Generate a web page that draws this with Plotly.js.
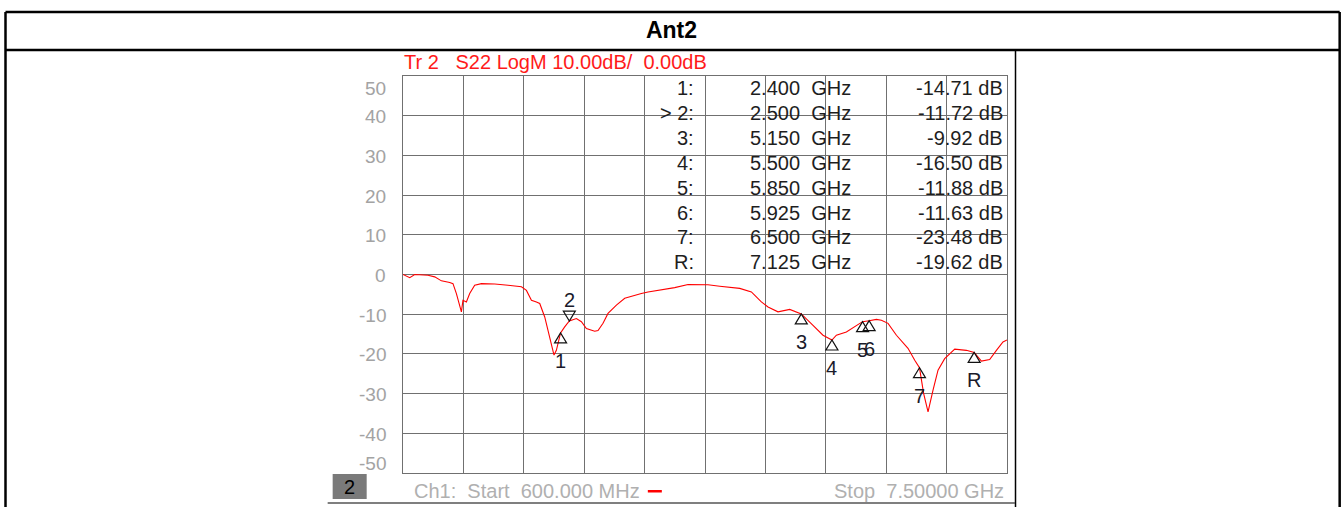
<!DOCTYPE html>
<html>
<head>
<meta charset="utf-8">
<script src="https://cdn.plot.ly/plotly-3.0.1.min.js"></script>
<style>
  html, body { margin: 0; padding: 0; background: #fff; }
  #chart { width: 1343px; height: 507px; }
</style>
</head>
<body>
<div id="chart"></div>
<script>
// ---------- data ----------
const chartTitle = 'Ant2';
const traceHeader = 'Tr 2\u00a0\u00a0 S22 LogM 10.00dB/\u00a0 0.00dB';
const startGHz = 0.6;
const stopGHz = 7.5;
const refDB = 0;
const scaleDB = 10;
const yTickLabels = [50, 40, 30, 20, 10, 0, -10, -20, -30, -40, -50];

const freqGHz = [0.600, 0.677, 0.734, 0.810, 0.886, 0.962, 1.039, 1.134, 1.171, 1.210,
  1.267, 1.285, 1.324, 1.362, 1.419, 1.496, 1.648, 1.800, 1.953, 2.010,
  2.067, 2.124, 2.162, 2.219, 2.276, 2.325, 2.352, 2.400, 2.447, 2.500,
  2.581, 2.638, 2.695, 2.790, 2.828, 2.885, 2.942, 3.038, 3.133, 3.247,
  3.323, 3.399, 3.552, 3.704, 3.856, 3.990, 4.084, 4.218, 4.447, 4.580,
  4.694, 4.770, 4.884, 5.018, 5.094, 5.150, 5.284, 5.398, 5.500, 5.551,
  5.665, 5.780, 5.850, 5.925, 6.008, 6.065, 6.141, 6.237, 6.369, 6.446,
  6.500, 6.548, 6.598, 6.655, 6.712, 6.788, 6.903, 7.036, 7.125, 7.208,
  7.302, 7.379, 7.454, 7.500];
const s22dB = [0.0, -0.8, 0.0, -0.1, -0.2, -0.6, -1.6, -2.0, -2.3, -4.8,
  -9.4, -6.5, -6.9, -4.8, -2.7, -2.3, -2.4, -2.7, -3.1, -4.0,
  -6.5, -6.9, -7.3, -10.7, -15.7, -20.3, -19.1, -14.71, -13.2, -11.72,
  -11.1, -11.9, -13.6, -14.3, -14.1, -12.3, -9.8, -7.7, -6.0, -5.2,
  -4.8, -4.4, -3.8, -3.3, -2.5, -2.5, -2.6, -2.95, -3.5, -4.4,
  -6.9, -8.2, -9.4, -8.8, -9.4, -9.92, -12.8, -15.3, -16.5, -15.3,
  -14.5, -12.8, -11.88, -11.63, -11.3, -11.5, -12.3, -15.3, -18.6, -21.6,
  -23.48, -30.0, -34.6, -29.1, -24.1, -21.2, -18.8, -19.1, -19.62, -21.8,
  -21.4, -19.1, -17.0, -16.5];

const markerNames = ['1', '2', '3', '4', '5', '6', '7', 'R'];
const markerFreqGHz = [2.400, 2.500, 5.150, 5.500, 5.850, 5.925, 6.500, 7.125];
const markerDB = [-14.71, -11.72, -9.92, -16.50, -11.88, -11.63, -23.48, -19.62];
const activeMarker = '2';

const channelLabel = 'Ch1:\u00a0 Start\u00a0 600.000 MHz';
const stopLabel = 'Stop\u00a0 7.50000 GHz';
const channelNumber = '2';

// ---------- layout helpers (pixel geometry of the page) ----------
const W = 1343, H = 507;
const PL = 403.3, PR = 1007, PT = 76, PB = 473;
const px = v => (v - PL) / (PR - PL);     // page x pixel -> paper x
const py = v => (PB - v) / (PB - PT);     // page y pixel -> paper y

const FONT = 'Liberation Sans, Arial, sans-serif';
const GRID = '#707070';

const shapes = [];
const annotations = [];

// table borders around the page
const line = (x0, y0, x1, y1, color, width) => shapes.push({
  type: 'line', xref: 'paper', yref: 'paper', layer: 'above',
  x0: px(x0), y0: py(y0), x1: px(x1), y1: py(y1),
  line: { color: color, width: width }
});
line(6, 12, 1339.5, 12, '#000', 2.5);
line(6, 12, 6, 510, '#000', 2.5);
line(1339.5, 12, 1339.5, 510, '#000', 2.5);
line(6, 50, 1339.5, 50, '#000', 2.5);
line(1015.5, 50, 1015.5, 510, '#000', 1.5);
line(328, 503, 1015, 503, '#555', 1.5);

// reference level arrows (pixel-sized, anchored to data)
shapes.push({
  type: 'path', xref: 'x', yref: 'y', xsizemode: 'pixel', ysizemode: 'pixel',
  xanchor: startGHz, yanchor: refDB, path: 'M0,0 L-6,4 L-6,-4 Z',
  fillcolor: '#ff0000', line: { color: '#ff0000', width: 0 }, layer: 'above'
});
shapes.push({
  type: 'path', xref: 'x', yref: 'y', xsizemode: 'pixel', ysizemode: 'pixel',
  xanchor: stopGHz, yanchor: refDB, path: 'M1,0 L7,4 L7,-4 Z',
  fillcolor: '#ff0000', line: { color: '#ff0000', width: 0 }, layer: 'above'
});

// marker triangles and labels
markerNames.forEach((name, i) => {
  const active = name === activeMarker;
  shapes.push({
    type: 'path', xref: 'x', yref: 'y', xsizemode: 'pixel', ysizemode: 'pixel',
    xanchor: markerFreqGHz[i], yanchor: markerDB[i],
    path: active ? 'M0,0 L-6,10 L6,10 Z' : 'M0,0 L-6,-10 L6,-10 Z',
    line: { color: '#111', width: 1.2 }, fillcolor: 'rgba(0,0,0,0)', layer: 'above'
  });
  annotations.push({
    x: markerFreqGHz[i], y: markerDB[i], xref: 'x', yref: 'y',
    text: name, showarrow: false, yshift: active ? 21 : -28,
    xanchor: 'center', yanchor: 'middle',
    font: { family: FONT, size: 20, color: '#1a1a2a' }
  });
});

// y tick labels (the end labels sit inside the frame as on the analyser)
yTickLabels.forEach(v => {
  let shift = -1;
  if (v === yTickLabels[0]) shift = -12;
  if (v === yTickLabels[yTickLabels.length - 1]) shift = 10;
  annotations.push({
    x: px(388), xref: 'paper', y: v, yref: 'y', text: String(v),
    showarrow: false, xanchor: 'right', yanchor: 'middle', yshift: shift,
    font: { family: FONT, size: 19, color: '#a3a3a3' }
  });
});

// marker table
markerNames.forEach((name, i) => {
  const rowY = py(88 + 24.9 * i);
  const fnt = { family: FONT, size: 20, color: '#1e1e1e' };
  annotations.push({ x: px(696), y: rowY, xref: 'paper', yref: 'paper', showarrow: false,
    xanchor: 'right', yanchor: 'middle', text: (name === activeMarker ? '>\u00a0' : '') + name + ':', font: fnt });
  annotations.push({ x: px(748), y: rowY, xref: 'paper', yref: 'paper', showarrow: false,
    xanchor: 'left', yanchor: 'middle', text: markerFreqGHz[i].toFixed(3) + '\u00a0 GHz', font: fnt });
  annotations.push({ x: px(1005), y: rowY, xref: 'paper', yref: 'paper', showarrow: false,
    xanchor: 'right', yanchor: 'middle', text: markerDB[i].toFixed(2) + ' dB', font: fnt });
});

// header and footer texts
annotations.push({ x: px(402), y: py(62), xref: 'paper', yref: 'paper', showarrow: false,
  xanchor: 'left', yanchor: 'middle', text: traceHeader,
  font: { family: FONT, size: 20, color: '#ff1a1a' } });
annotations.push({ x: px(412), y: py(491), xref: 'paper', yref: 'paper', showarrow: false,
  xanchor: 'left', yanchor: 'middle', text: channelLabel,
  font: { family: FONT, size: 20, color: '#b0b0b0' } });
annotations.push({ x: px(1006), y: py(491), xref: 'paper', yref: 'paper', showarrow: false,
  xanchor: 'right', yanchor: 'middle', text: stopLabel,
  font: { family: FONT, size: 20, color: '#b0b0b0' } });
// red trace-colour dash after the start frequency
shapes.push({ type: 'rect', xref: 'paper', yref: 'paper', layer: 'above',
  x0: px(648), x1: px(662), y0: py(492.5), y1: py(490),
  fillcolor: '#ff0000', line: { width: 0 } });
// channel number box
shapes.push({ type: 'rect', xref: 'paper', yref: 'paper', layer: 'above',
  x0: px(333), x1: px(367), y0: py(499), y1: py(474),
  fillcolor: '#7a7a7a', line: { width: 0 } });
annotations.push({ x: px(350), y: py(487), xref: 'paper', yref: 'paper', showarrow: false,
  xanchor: 'center', yanchor: 'middle', text: channelNumber,
  font: { family: FONT, size: 20, color: '#000' } });

// grid positions: 10 divisions in each direction
const nDiv = 10;
const xGrid = [];
for (let i = 0; i <= nDiv; i++) xGrid.push(startGHz + i * (stopGHz - startGHz) / nDiv);

const trace = {
  type: 'scatter', mode: 'lines', x: freqGHz, y: s22dB,
  line: { color: '#ff0000', width: 1.1 }, hoverinfo: 'skip', showlegend: false
};

const layout = {
  width: W, height: H,
  margin: { l: PL, r: W - PR, t: PT, b: H - PB, pad: 0 },
  paper_bgcolor: '#ffffff', plot_bgcolor: '#ffffff',
  title: { text: '<b>' + chartTitle + '</b>', x: 0.5, xref: 'container', xanchor: 'center',
    y: 1 - 30 / H, yref: 'container', yanchor: 'middle',
    font: { family: FONT, size: 23, color: '#000' } },
  xaxis: { range: [startGHz, stopGHz], tickvals: xGrid, showticklabels: false, ticks: '',
    showgrid: true, gridcolor: GRID, gridwidth: 1, zeroline: false,
    showline: true, mirror: true, linecolor: GRID, linewidth: 1, fixedrange: true },
  yaxis: { range: [refDB - 5 * scaleDB, refDB + 5 * scaleDB], dtick: scaleDB, tick0: 0,
    showticklabels: false, ticks: '', showgrid: true, gridcolor: GRID, gridwidth: 1,
    zeroline: false, showline: true, mirror: true, linecolor: GRID, linewidth: 1, fixedrange: true },
  shapes: shapes,
  annotations: annotations,
  showlegend: false
};

Plotly.newPlot('chart', [trace], layout, { staticPlot: true, displayModeBar: false });
</script>
</body>
</html>
